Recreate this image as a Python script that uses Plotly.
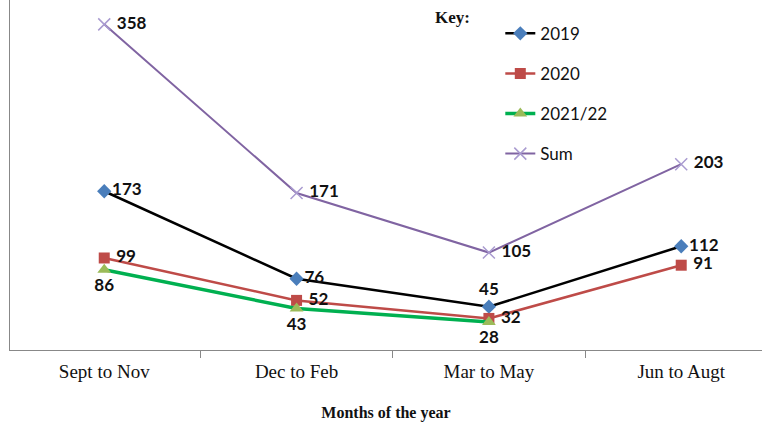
import plotly.graph_objects as go

categories = ["Sept to Nov", "Dec to Feb", "Mar to May", "Jun to Augt"]
y2019 = [173, 76, 45, 112]
y2020 = [99, 52, 32, 91]
y2021 = [86, 43, 28, None]
ysum = [358, 171, 105, 203]

pos2019 = ["middle right", "middle right", "top center", "middle right"]
pos2020 = ["middle right", "middle right", "middle right", "middle right"]
pos2021 = ["bottom center", "bottom center", "bottom center", "bottom center"]
possum = ["middle right", "middle right", "middle right", "middle right"]

label_font = dict(family="Lato", size=17, color="#111111")

fig = go.Figure()

def add(name, ys, line_color, line_width, marker, positions, pad):
    fig.add_trace(go.Scatter(
        x=categories, y=ys, name=name, mode="lines+markers+text",
        line=dict(color=line_color, width=line_width),
        marker=marker,
        text=[(("<b>%s%d</b>" % (pad if p.endswith("right") else "", v)) if v is not None else "")
              for v, p in zip(ys, positions)],
        textposition=positions,
        textfont=label_font,
        legendgroup=name,
        cliponaxis=False,
    ))

add("2019", y2019, "#000000", 2.5,
    dict(symbol="diamond", size=11, color="#4a7ebb"), pos2019, "")
add("2020", y2020, "#be4b48", 2.5,
    dict(symbol="square", size=11, color="#be4b48"), pos2020, " ")
add("2021/22", y2021, "#00b050", 3.5,
    dict(symbol="triangle-up", size=12, color="#9bbb59"), pos2021, "")
add("Sum", ysum, "#8064a2", 2,
    dict(symbol="x-thin-open", size=12, color="#a99bd0", line=dict(width=1.5, color="#a99bd0")), possum, " ")

fig.add_annotation(text="<b>Key:</b>", x=0.5885, y=0.949, xref="paper", yref="paper",
                   xanchor="center", yanchor="middle",
                   showarrow=False, font=dict(family="Liberation Serif", size=17, color="#111111"))

fig.update_layout(
    width=762, height=429,
    margin=dict(l=10, r=0, t=0, b=79),
    paper_bgcolor="white", plot_bgcolor="white",
    showlegend=True,
    legend=dict(x=0.652, y=0.955, xanchor="left", yanchor="top",
                font=dict(family="Lato", size=17, color="#111111"),
                tracegroupgap=15, traceorder="grouped",
                bgcolor="rgba(0,0,0,0)", itemwidth=30),
    xaxis=dict(type="category", range=[-0.49, 3.42], showgrid=False,
               showline=True, linecolor="#888888", linewidth=1,
               ticks="outside", ticklen=7, tickcolor="#888888", tickson="boundaries",
               ticklabelstandoff=4,
               tickfont=dict(family="Liberation Serif", size=19, color="#111111"),
               title=dict(text="<b>Months of the year</b>", standoff=26,
                          font=dict(family="Liberation Serif", size=16, color="#111111"))),
    yaxis=dict(range=[-3, 385], showgrid=False, zeroline=False,
               showline=True, linecolor="#888888", linewidth=1,
               showticklabels=False, ticks=""),
)

fig.write_html("out.html")
